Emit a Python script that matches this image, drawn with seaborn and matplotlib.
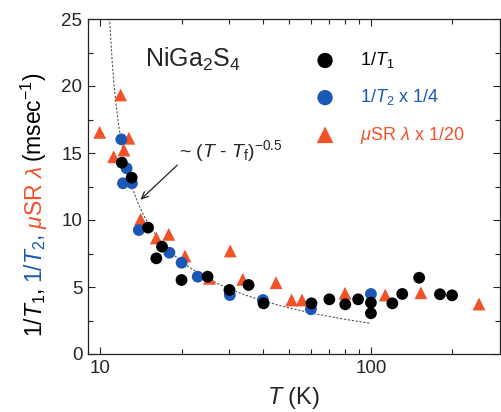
import numpy as np
import pandas as pd
import matplotlib
matplotlib.use("Agg")
import matplotlib.pyplot as plt
import matplotlib.ticker as mticker
import seaborn as sns

# ---------------- data ----------------
t1_T = [12.0, 13.05, 15.0, 16.9, 16.1, 19.95, 24.9, 30.0, 35.3, 40.1, 60.3,
        70.2, 80.4, 89.7, 100, 100, 120, 130.6, 150.8, 180, 199.5]
t1_val = [14.28, 13.16, 9.43, 8.01, 7.14, 5.52, 5.77, 4.78, 5.15, 3.78, 3.78,
          4.08, 3.71, 4.08, 3.83, 3.04, 3.78, 4.48, 5.69, 4.46, 4.38]

t2_T = [11.95, 12.5, 12.12, 13.08, 13.87, 18.0, 19.96, 22.9, 30.1, 39.9, 60, 100]
t2_val = [16.02, 13.86, 12.74, 12.74, 9.25, 7.56, 6.81, 5.77, 4.40, 4.03, 3.34, 4.48]

musr_T = [11.88, 9.94, 12.75, 12.22, 11.19, 14.08, 16.09, 17.9, 20.56, 25.3,
          30.2, 33.6, 44.6, 50.9, 55.6, 80.2, 113, 153, 251]
musr_val = [19.33, 16.54, 16.10, 15.22, 14.72, 10.05, 8.66, 8.93, 7.31, 5.65,
            7.69, 5.57, 5.32, 4.03, 4.03, 4.53, 4.40, 4.57, 3.73]

# fit curve ~ A (T - Tf)^-0.5
fit_A = 21.7
fit_Tf = 10.07
fit_Tmin, fit_Tmax = 10.82, 100.0

legend_labels = [r'1/$\mathit{T}_1$', r'1/$\mathit{T}_2$ x 1/4',
                 r'$\mathit{\mu}$SR $\mathit{\lambda}$ x 1/20']
x_major = [10, 100]
x_major_labels = ['10', '100']
y_major = [0, 5, 10, 15, 20, 25]

BLACK = '#000000'
BLUE = '#1b57b5'
RED = '#f0522a'

# ---------------- style ----------------
sns.set_style('ticks')
plt.rcParams['font.family'] = ['Liberation Sans', 'DejaVu Sans']
plt.rcParams['mathtext.fontset'] = 'custom'
plt.rcParams['mathtext.rm'] = 'Liberation Sans'
plt.rcParams['mathtext.it'] = 'Liberation Sans:italic'
plt.rcParams['mathtext.bf'] = 'Liberation Sans:bold'
plt.rcParams['mathtext.sf'] = 'Liberation Sans'

W, H = 502, 412
fig = plt.figure(figsize=(W / 100, H / 100), dpi=100)
ax = fig.add_axes([88 / W, 1 - 354 / H, (500 - 88) / W, (354 - 19) / H])

df1 = pd.DataFrame({'T': t1_T, 'v': t1_val})
df2 = pd.DataFrame({'T': t2_T, 'v': t2_val})
df3 = pd.DataFrame({'T': musr_T, 'v': musr_val})

fitT = np.geomspace(fit_Tmin, fit_Tmax, 300)
dfit = pd.DataFrame({'T': fitT, 'v': fit_A * (fitT - fit_Tf) ** -0.5})
sns.lineplot(data=dfit, x='T', y='v', ax=ax, color='#555555', lw=0.8,
             linestyle=(0, (2, 1.5)), sort=False, estimator=None, zorder=1)

sns.scatterplot(data=df3, x='T', y='v', ax=ax, marker='^', s=85, color=RED,
                edgecolor='none', label=legend_labels[2], zorder=3)
sns.scatterplot(data=df2, x='T', y='v', ax=ax, marker='o', s=72, color=BLUE,
                edgecolor='none', label=legend_labels[1], zorder=4)
sns.scatterplot(data=df1, x='T', y='v', ax=ax, marker='o', s=72, color=BLACK,
                edgecolor='none', label=legend_labels[0], zorder=5)

ax.set_xscale('log')
ax.set_xlim(9, 300)
ax.set_ylim(0, 25)
ax.set_xticks(x_major)
ax.set_xticklabels(x_major_labels)
ax.xaxis.set_minor_locator(mticker.LogLocator(base=10, subs=np.arange(2, 10)))
ax.xaxis.set_minor_formatter(mticker.NullFormatter())
ax.set_yticks(y_major)
ax.yaxis.set_minor_locator(mticker.MultipleLocator(2.5))
ax.tick_params(which='both', direction='in', top=True, right=True,
               width=0.8, labelsize=13.5, color='#222222')
ax.tick_params(which='major', length=5, pad=4)
ax.tick_params(which='minor', length=3.5)
for sp in ax.spines.values():
    sp.set_linewidth(0.9)
    sp.set_color('#222222')

ax.set_xlabel(r'$\mathit{T}$ (K)', fontsize=17, labelpad=6)
ax.set_ylabel('')

# legend
handles, labels = ax.get_legend_handles_labels()
order = [labels.index(l) for l in legend_labels]
leg = ax.legend([handles[i] for i in order], [labels[i] for i in order],
                loc='upper left',
                bbox_to_anchor=((307 - 88) / (500 - 88), 1 - (43 - 19) / (354 - 19)),
                frameon=False, fontsize=13, markerscale=1.3, handletextpad=1.35,
                labelspacing=0.95, borderaxespad=0, handlelength=1.2)
for txt, col in zip(leg.get_texts(), [BLACK, BLUE, RED]):
    txt.set_color(col)

# compound label
ax.text(14.57, 21.4, r'NiGa$_2$S$_4$', fontsize=18, ha='left', va='baseline')

# fit annotation
ax.text(19.6, 14.7, r'~ ($\mathit{T}$ - $\mathit{T}_\mathrm{f}$)$^{-0.5}$',
        fontsize=14, ha='left', va='baseline')
ax.annotate('', xy=(14.05, 11.5), xytext=(19.24, 14.1),
            arrowprops=dict(arrowstyle='->,head_length=0.5,head_width=0.22',
                            color='#222222', lw=0.9, shrinkA=0, shrinkB=0))

# multi-coloured y label
pieces = [(r'1/$\mathit{T}_1$, ', BLACK), (r'1/$\mathit{T}_2$, ', BLUE),
          (r'$\mathit{\mu}$SR $\mathit{\lambda}$ ', RED), (r'(msec$^{-1}$)', BLACK)]
fig.canvas.draw()
renderer = fig.canvas.get_renderer()
ypos = H - 337
xbase = 42
for s, col in pieces:
    t = fig.text(xbase / W, ypos / H, s, rotation=90, rotation_mode='anchor',
                 ha='left', va='baseline', color=col, fontsize=16.5)
    bb = t.get_window_extent(renderer)
    ypos += bb.height + 3

fig.savefig('out.png', dpi=100)
